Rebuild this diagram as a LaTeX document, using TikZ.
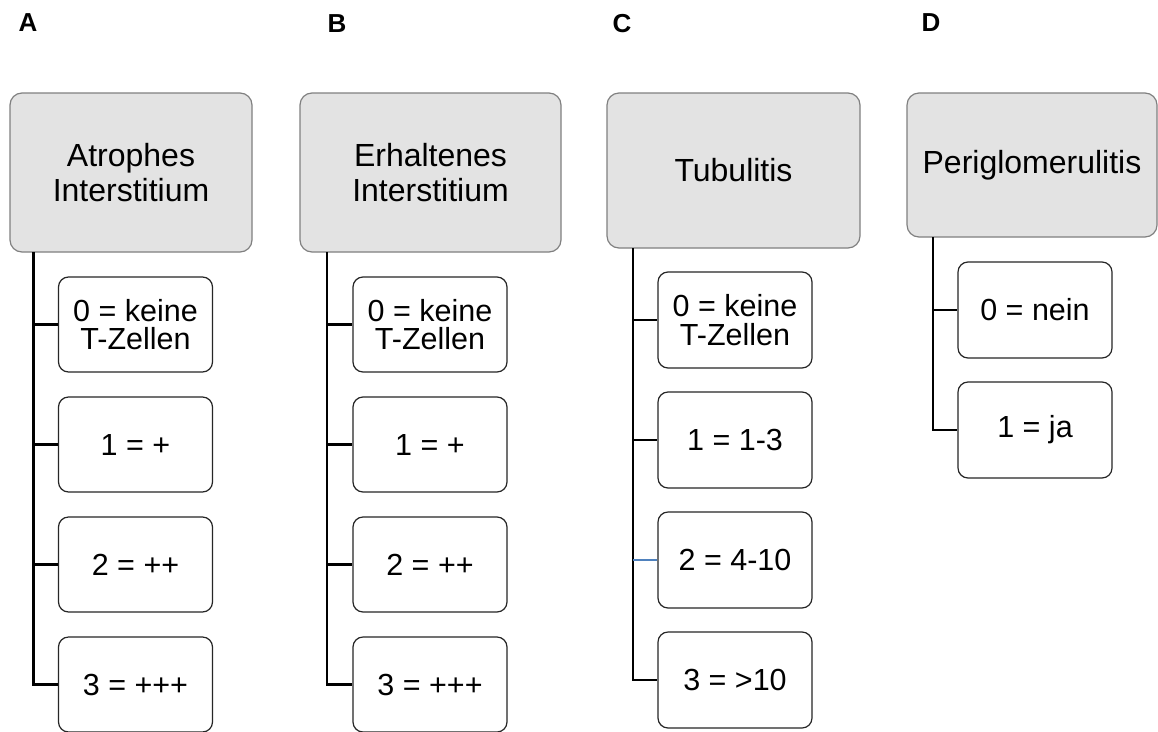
\documentclass[tikz,border=0pt]{standalone}
\usepackage{fontspec}
\setmainfont{Liberation Sans}
\begin{document}
\begin{tikzpicture}[x=1pt,y=-1pt,
  head/.style={draw=black!50, line width=1.2pt, fill=black!11, rounded corners=12pt,
    inner sep=0pt, align=center, font=\fontsize{32}{35}\selectfont},
  item/.style={draw=black!85, line width=1.2pt, fill=white, rounded corners=10pt,
    minimum width=154pt, inner sep=0pt, align=center, font=\fontsize{30.5}{28.5}\selectfont},
  trunk/.style={line width=2.8pt, black},
  stem/.style={line width=2.4pt, black},
  lab/.style={font=\fontsize{26}{26}\selectfont\bfseries, inner sep=0pt}]
\useasboundingbox (0,0) rectangle (1158,731);
\fill[white] (0,0) rectangle (1158,731);

% panel labels
\node[lab] (LA) at (28,23) {A};
\node[lab] (LB) at (337,24) {B};
\node[lab] (LC) at (622,24) {C};
\node[lab] (LD) at (931,23) {D};

% headers
\node[head, minimum width=242pt, minimum height=159pt] (hA) at (131,172.5) {Atrophes\\Interstitium};
\node[head, minimum width=261pt, minimum height=159pt] (hB) at (430.5,172.5) {Erhaltenes\\Interstitium};
\node[head, minimum width=253pt, minimum height=155pt] (hC) at (733.5,170.5) {Tubulitis};
\node[head, minimum width=250pt, minimum height=144pt] (hD) at (1032,165) {Periglomerulitis};

% column A
\node[item, minimum height=95pt] (a0) at (135.5,324.5) {0 = keine\\T-Zellen};
\node[item, minimum height=95pt] (a1) at (135.5,444.5) {1 = +};
\node[item, minimum height=95pt] (a2) at (135.5,564.5) {2 = ++};
\node[item, minimum height=95pt] (a3) at (135.5,684.5) {3 = +++};
% column B
\node[item, minimum height=95pt] (b0) at (430,324.5) {0 = keine\\T-Zellen};
\node[item, minimum height=95pt] (b1) at (430,444.5) {1 = +};
\node[item, minimum height=95pt] (b2) at (430,564.5) {2 = ++};
\node[item, minimum height=95pt] (b3) at (430,684.5) {3 = +++};
% column C
\node[item, minimum height=96pt] (c0) at (735,320) {0 = keine\\T-Zellen};
\node[item, minimum height=96pt] (c1) at (735,440) {1 = 1-3};
\node[item, minimum height=96pt] (c2) at (735,560) {2 = 4-10};
\node[item, minimum height=96pt] (c3) at (735,680) {3 = >10};
% column D
\node[item, minimum height=96pt] (d0) at (1035,310) {0 = nein};
\node[item, minimum height=96pt] (d1) at (1035,430) {1 = ja};

% trunks
\coordinate (tA) at (33.5,252);
\coordinate (tB) at (327,252);
\coordinate (tC) at (633,248);
\coordinate (tD) at (933,237);

\draw[trunk] (tA) |- (a3.west);
\draw[stem] (tA |- a0.west) -- (a0.west);
\draw[stem] (tA |- a1.west) -- (a1.west);
\draw[stem] (tA |- a2.west) -- (a2.west);

\draw[trunk] (tB) |- (b3.west);
\draw[stem] (tB |- b0.west) -- (b0.west);
\draw[stem] (tB |- b1.west) -- (b1.west);
\draw[stem] (tB |- b2.west) -- (b2.west);

\draw[trunk] (tC) |- (c3.west);
\draw[stem] (tC |- c0.west) -- (c0.west);
\draw[stem] (tC |- c1.west) -- (c1.west);
\draw[stem, color={rgb,255:red,79;green,129;blue,189}] (tC |- c2.west) -- (c2.west);

\draw[trunk] (tD) |- (d1.west);
\draw[stem] (tD |- d0.west) -- (d0.west);
\end{tikzpicture}
\end{document}
